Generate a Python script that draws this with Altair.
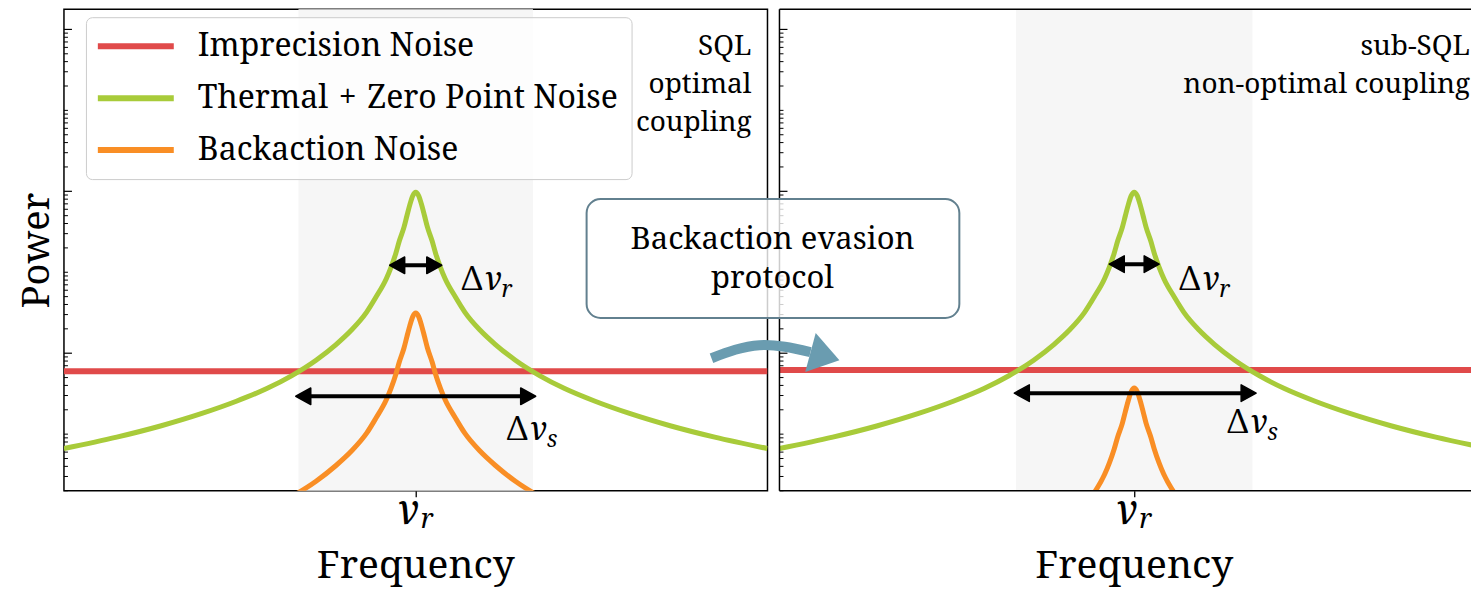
import altair as alt
import pandas as pd

FONT = "Noto Serif"
RED, GREEN, ORANGE = "#E04A4A", "#A8CB3A", "#F98E25"
SHADE = "#F6F6F6"
ARROW_BLUE = "#6A9CB0"
BOX_EDGE = "#62808F"

SERIES = ["Imprecision Noise", "Thermal\u2004+\u2004Zero Point Noise", "Backaction Noise"]

detuning = [0, 0.025, 0.05, 0.075, 0.1, 0.14, 0.17, 0.21, 0.25, 0.34, 0.42, 0.55,
            0.68, 0.85, 1.06, 1.27, 1.53, 1.83, 2.17, 2.55, 3.0]
thermal_power = [9.77e-3, 8.83e-3, 6.85e-3, 4.99e-3, 3.61e-3, 2.43e-3, 1.71e-3, 1.16e-3,
                 8.39e-4, 4.91e-4, 3.20e-4, 1.92e-4, 1.28e-4, 8.20e-5, 5.26e-5, 3.66e-5,
                 2.55e-5, 1.79e-5, 1.27e-5, 9.18e-6, 6.64e-6]
backaction_sql = [3.13e-4, 2.83e-4, 2.19e-4, 1.60e-4, 1.16e-4, 7.78e-5, 5.47e-5, 3.71e-5,
                  2.68e-5, 1.57e-5, 1.02e-5, 6.14e-6, 4.10e-6, 2.62e-6, 1.68e-6]
backaction_bae = [3.71e-5, 3.36e-5, 2.60e-5, 1.90e-5, 1.37e-5, 9.23e-6, 6.50e-6, 4.41e-6,
                  3.19e-6, 1.87e-6]
imprecision_x = [-3.0, 3.0]
imprecision_sql = [6.0e-5, 6.0e-5]
imprecision_bae = [6.2e-5, 6.2e-5]

band_x1, band_x2 = [-1.0], [1.0]

arrows_sql_x1 = [-0.222, -1.023]
arrows_sql_x2 = [0.222, 1.023]
arrows_sql_p = [1.22e-3, 2.94e-5]
arrows_bae_x1 = [-0.211, -1.014]
arrows_bae_x2 = [0.211, 1.031]
arrows_bae_p = [1.26e-3, 3.21e-5]

label_subs = ["r", "s"]
labels_sql_x = [0.39, 0.776]
labels_sql_p = [6.0e-4, 8.43e-6]
labels_bae_x = [0.38, 0.786]
labels_bae_p = [6.0e-4, 1.03e-5]

notes_sql = ["SQL", "optimal", "coupling"]
notes_bae = ["sub-SQL", "non-optimal coupling"]
protocol_text = ["Backaction evasion", "protocol"]

bend_x = [-3.575, -3.169, -2.738]
bend_p = [8.67e-5, 1.256e-4, 1.03e-4]
bend_tip_x = [-2.493]
bend_tip_p = [8.2e-5]

X_LEFT = [-3.0, 3.0]
X_RIGHT = [-3.0, 2.848]
Y_DOMAIN = [1.992e-6, 1.778]
H = 482
major_ticks = [1.0, 1e-2, 1e-4]
minor_ticks = [m * 10.0 ** k for k in range(-6, 0) for m in range(1, 10)
               if not (m == 1 and k % 2 == 0) and Y_DOMAIN[0] <= m * 10.0 ** k <= Y_DOMAIN[1]]

HEAD_L = "M0,0L2,-1.1L2,1.1Z"
HEAD_R = "M0,0L-2,-1.1L-2,1.1Z"
BEND_HEAD = "M0,0L-2,-1.35L-2,1.35Z"


def mirror(xs, vs):
    xs = xs[:len(vs)]
    x = [-a for a in reversed(xs[1:])] + list(xs)
    v = list(reversed(vs[1:])) + list(vs)
    return x, v


def curve_df(name, xs, vs, sym=True):
    if sym:
        xs, vs = mirror(xs, vs)
    return pd.DataFrame({"x": xs, "p": vs, "series": name})


def txt(**kw):
    base = dict(font=FONT, color="black", baseline="alphabetic")
    base.update(kw)
    return base


def panel(width, xdom, imp, back, ax1, ax2, ap, lx, lp, notes, note_x, left):
    xaxis = alt.Axis(values=[0], labels=False, ticks=True, tickSize=6, tickColor="black",
                     tickWidth=1.3, domain=False, grid=False, title=None)
    yaxis = (alt.Axis(title="Power", labels=False, ticks=False, domain=False, grid=False,
                      titleFont=FONT, titleFontSize=38, titleFontWeight="normal",
                      titleColor="black", titlePadding=7) if left else None)
    xscale = alt.Scale(domain=xdom, nice=False, zero=False)
    yscale = alt.Scale(type="log", domain=Y_DOMAIN, nice=False)
    xenc = alt.X("x:Q", scale=xscale, axis=xaxis)
    yenc = alt.Y("p:Q", scale=yscale, axis=yaxis)
    legend = (alt.Legend(title=None, orient="none", legendX=22, legendY=8, direction="vertical",
                         symbolType="M-1.8,0H6.2", symbolSize=361, symbolStrokeWidth=6,
                         labelFont=FONT, labelFontSize=32, labelColor="black", labelLimit=900,
                         labelOffset=67, rowPadding=20, padding=13,
                         fillColor="rgba(255,255,255,0.8)", strokeColor="#cccccc",
                         cornerRadius=6) if left else None)
    color = alt.Color("series:N", scale=alt.Scale(domain=SERIES, range=[RED, GREEN, ORANGE]),
                      legend=legend)
    one = pd.DataFrame({"x": [0.0]})

    layers = []
    layers.append(alt.Chart(pd.DataFrame({"x": band_x1, "x2": band_x2})).mark_rect(
        color=SHADE).encode(x=xenc, x2=alt.X2("x2"), y=alt.value(0), y2=alt.value(H)))
    layers.append(alt.Chart(pd.DataFrame({"p": major_ticks})).mark_rule(
        color="black", strokeWidth=1.2).encode(y=yenc, x=alt.value(0), x2=alt.value(8)))
    layers.append(alt.Chart(pd.DataFrame({"p": minor_ticks})).mark_rule(
        color="black", strokeWidth=1).encode(y=yenc, x=alt.value(0), x2=alt.value(4)))
    layers.append(alt.Chart(curve_df(SERIES[0], imprecision_x, imp, sym=False)).mark_line(
        strokeWidth=6, clip=True).encode(x=xenc, y=yenc, color=color))
    layers.append(alt.Chart(curve_df(SERIES[1], detuning, thermal_power)).mark_line(
        strokeWidth=5, clip=True, interpolate="monotone").encode(x=xenc, y=yenc, color=color))
    layers.append(alt.Chart(curve_df(SERIES[2], detuning, back)).mark_line(
        strokeWidth=5, clip=True, interpolate="monotone").encode(x=xenc, y=yenc, color=color))

    adf = pd.DataFrame({"x": ax1, "x2": ax2, "p": ap})
    layers.append(alt.Chart(adf).mark_rule(color="black", strokeWidth=4, xOffset=7,
                                           x2Offset=-7).encode(x=xenc, x2=alt.X2("x2"), y=yenc))
    layers.append(alt.Chart(pd.DataFrame({"x": ax1, "p": ap})).mark_point(
        shape=HEAD_L, size=225, filled=True, fill="black", stroke="black", strokeWidth=1.5,
        strokeJoin="round", opacity=1).encode(x=xenc, y=yenc))
    layers.append(alt.Chart(pd.DataFrame({"x": ax2, "p": ap})).mark_point(
        shape=HEAD_R, size=225, filled=True, fill="black", stroke="black", strokeWidth=1.5,
        strokeJoin="round", opacity=1).encode(x=xenc, y=yenc))

    ldf = pd.DataFrame({"x": lx, "p": lp, "sub": label_subs})
    layers.append(alt.Chart(ldf).mark_text(**txt(text="Δ", align="left", fontSize=33)).encode(
        x=xenc, y=yenc))
    layers.append(alt.Chart(ldf).mark_text(**txt(text="ν", align="left", fontSize=33,
                                                 fontStyle="italic", dx=22)).encode(x=xenc, y=yenc))
    layers.append(alt.Chart(ldf).mark_text(**txt(align="left", fontSize=23, fontStyle="italic",
                                                 dx=40, dy=7)).encode(x=xenc, y=yenc, text="sub:N"))

    # x tick label nu_r and axis title
    layers.append(alt.Chart(one).mark_text(**txt(text="ν", align="right", fontSize=41,
                                                 fontStyle="italic", dx=3)).encode(
        x=xenc, y=alt.value(H + 33)))
    layers.append(alt.Chart(one).mark_text(**txt(text="r", align="left", fontSize=27,
                                                 fontStyle="italic", dx=5)).encode(
        x=xenc, y=alt.value(H + 37)))
    layers.append(alt.Chart(one).mark_text(**txt(text="Frequency", align="center",
                                                 fontSize=39)).encode(
        x=xenc, y=alt.value(H + 87)))

    layers.append(alt.Chart(one).mark_text(**txt(text=notes, align="right", fontSize=28,
                                                 lineHeight=38)).encode(
        x=alt.value(note_x), y=alt.value(46)))

    if not left:
        layers.append(alt.Chart(one).mark_rule(color="black", strokeWidth=1.5).encode(
            x=alt.value(0), y=alt.value(0), y2=alt.value(H)))
        layers.append(alt.Chart(one).mark_rule(color="black", strokeWidth=1.5).encode(
            x=alt.value(0), x2=alt.value(width), y=alt.value(0)))
        layers.append(alt.Chart(one).mark_rule(color="black", strokeWidth=1.5).encode(
            x=alt.value(0), x2=alt.value(width), y=alt.value(H)))
        layers.append(alt.Chart(pd.DataFrame({"x": bend_x, "p": bend_p})).mark_line(
            color=ARROW_BLUE, strokeWidth=10, interpolate="natural", clip=False,
            strokeCap="butt").encode(x=xenc, y=yenc))
        layers.append(alt.Chart(pd.DataFrame({"x": bend_tip_x, "p": bend_tip_p})).mark_point(
            shape=BEND_HEAD, size=900, angle=15, filled=True, fill=ARROW_BLUE,
            opacity=1, strokeWidth=0).encode(x=xenc, y=yenc))
        layers.append(alt.Chart(one).mark_rect(
            cornerRadius=14, fill="white", fillOpacity=0.8, stroke=BOX_EDGE,
            strokeWidth=2).encode(x=alt.value(-193), x2=alt.value(180), y=alt.value(190),
                                  y2=alt.value(309)))
        layers.append(alt.Chart(one).mark_text(**txt(text=protocol_text, align="center",
                                                     fontSize=31, lineHeight=39)).encode(
            x=alt.value(-7), y=alt.value(240)))

    ch = alt.layer(*layers).properties(width=width, height=H)
    if not left:
        ch = ch.properties(view=alt.ViewBackground(stroke=None))
    return ch


left = panel(704, X_LEFT, imprecision_sql, backaction_sql, arrows_sql_x1, arrows_sql_x2,
             arrows_sql_p, labels_sql_x, labels_sql_p, notes_sql, 688, True)
right = panel(692, X_RIGHT, imprecision_bae, backaction_bae, arrows_bae_x1, arrows_bae_x2,
              arrows_bae_p, labels_bae_x, labels_bae_p, notes_bae, 691, False)

chart = alt.hconcat(left, right, spacing=12, bounds="flush").resolve_scale(
    color="independent").properties(
    padding={"left": 10, "top": 0, "right": 0, "bottom": 3}
).configure(font=FONT).configure_view(stroke="black", strokeWidth=1.5)

chart.save("out.html", embed_options={"renderer": "svg", "actions": False})
